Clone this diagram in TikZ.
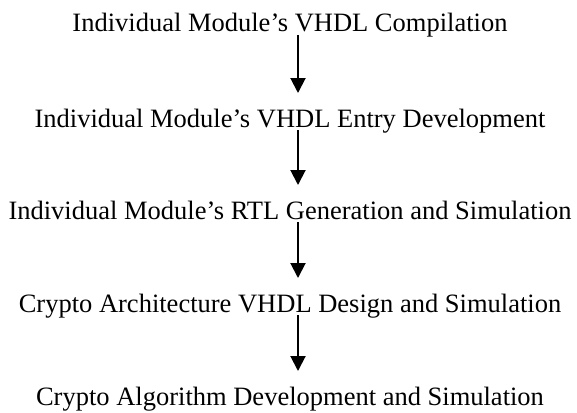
\documentclass[tikz,border=0pt]{standalone}
\usepackage{fontspec}
\setmainfont{Liberation Serif}
\usetikzlibrary{arrows.meta}
\begin{document}
\begin{tikzpicture}[x=1pt,y=-1pt,
  stage/.style={inner sep=0pt,anchor=base,font=\fontsize{26.5}{32}\selectfont},
  flow/.style={line width=2pt,-{Triangle[length=15pt,width=15pt]}}]
\useasboundingbox (0,0) rectangle (577,412);
\coordinate (ax) at (298,0);
\node[stage] (s1) at (290,32) {Individual Module’s VHDL Compilation};
\node[stage] (s2) at (290,127) {Individual Module’s VHDL Entry Development};
\node[stage] (s3) at (290,219) {Individual Module’s RTL Generation and Simulation};
\node[stage] (s4) at (290,312) {Crypto Architecture VHDL Design and Simulation};
\node[stage] (s5) at (290,405) {Crypto Algorithm Development and Simulation};
\draw[flow] ([yshift=-3pt]s1.base -| ax) -- ([yshift=34pt]s2.base -| ax);
\draw[flow] ([yshift=-3pt]s2.base -| ax) -- ([yshift=34pt]s3.base -| ax);
\draw[flow] ([yshift=-3pt]s3.base -| ax) -- ([yshift=34pt]s4.base -| ax);
\draw[flow] ([yshift=-3pt]s4.base -| ax) -- ([yshift=34pt]s5.base -| ax);
\end{tikzpicture}
\end{document}
